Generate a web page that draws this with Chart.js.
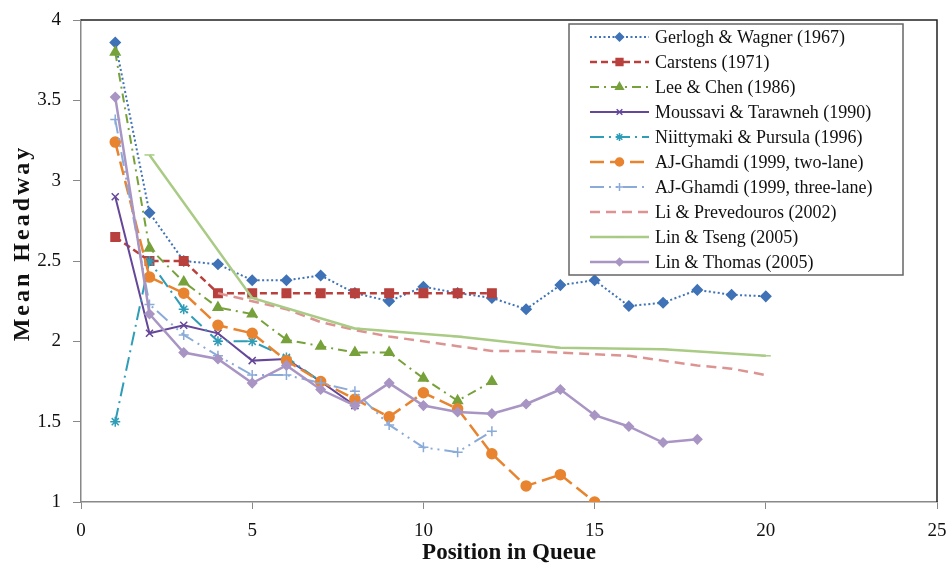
<!DOCTYPE html>
<html>
<head>
<meta charset="utf-8">
<script src="https://cdn.jsdelivr.net/npm/chart.js@4/dist/chart.umd.min.js"></script>
<style>
  html, body { margin: 0; padding: 0; background: #fff; }
  #wrap { width: 946px; height: 565px; }
</style>
</head>
<body>
<div id="wrap"><canvas id="headwayChart"></canvas></div>
<script>
// Mean headway by position in queue, several studies
var gerloghWagner = [3.86, 2.80, 2.50, 2.48, 2.38, 2.38, 2.41, 2.30, 2.25, 2.34, 2.30, 2.27, 2.20, 2.35, 2.38, 2.22, 2.24, 2.32, 2.29, 2.28];
var carstens = [2.65, 2.50, 2.50, 2.30, 2.30, 2.30, 2.30, 2.30, 2.30, 2.30, 2.30, 2.30];
var leeChen = [3.80, 2.58, 2.37, 2.21, 2.17, 2.01, 1.97, 1.93, 1.93, 1.77, 1.63, 1.75];
var moussaviTarawneh = [2.90, 2.05, 2.10, 2.05, 1.88, 1.89, 1.75, 1.60];
var niittymakiPursula = [1.50, 2.50, 2.20, 2.00, 2.00, 1.90, 1.75];
var ghamdiTwoLane = [3.24, 2.40, 2.30, 2.10, 2.05, 1.88, 1.75, 1.64, 1.53, 1.68, 1.58, 1.30, 1.10, 1.17, 1.00];
var ghamdiThreeLane = [3.38, 2.23, 2.04, 1.91, 1.79, 1.79, 1.74, 1.69, 1.48, 1.34, 1.31, 1.44];
var liPrevedourosPos = [4, 5, 6, 7, 8, 9, 10, 11, 12, 13, 14, 15, 16, 17, 18, 19, 20];
var liPrevedouros = [2.30, 2.25, 2.20, 2.12, 2.07, 2.03, 2.00, 1.97, 1.94, 1.94, 1.93, 1.92, 1.91, 1.88, 1.85, 1.83, 1.79];
var linTsengPos = [2, 5, 8, 11, 14, 17, 20];
var linTseng = [3.16, 2.27, 2.08, 2.03, 1.96, 1.95, 1.91];
var linThomas = [3.52, 2.17, 1.93, 1.89, 1.74, 1.85, 1.70, 1.60, 1.74, 1.60, 1.56, 1.55, 1.61, 1.70, 1.54, 1.47, 1.37, 1.39];

var xTicks = [0, 5, 10, 15, 20, 25];
var yTicks = [1, 1.5, 2, 2.5, 3, 3.5, 4];
var yTitle = 'Mean Headway';

// pair values with queue positions (1, 2, 3 ... unless given)
function pts(vals, pos) {
    return vals.map(function(v, i) {
        return { x: pos ? pos[i] : i + 1, y: v };
    });
}

function serie(label, data, color, dash, style, radius, width) {
    return {
        label: label,
        data: data,
        borderColor: color,
        backgroundColor: color,
        borderWidth: width || 2,
        borderDash: dash,
        pointStyle: style,
        pointRadius: style ? radius : 0,
        pointBorderColor: color,
        pointBackgroundColor: color,
        pointBorderWidth: 1.5,
        tension: 0,
        fill: false
    };
}

var datasets = [
    serie('Gerlogh & Wagner (1967)', pts(gerloghWagner), '#3F72B6', [2, 2.5], 'rectRot', 5, 2),
    serie('Carstens (1971)', pts(carstens), '#B8403D', [7, 4], 'rect', 6, 2.5),
    serie('Lee & Chen (1986)', pts(leeChen), '#77A13A', [9, 5, 2, 5], 'triangle', 5.5, 2),
    serie('Moussavi & Tarawneh (1990)', pts(moussaviTarawneh), '#65479A', [], 'crossRot', 5, 2),
    serie('Niittymaki & Pursula (1996)', pts(niittymakiPursula), '#2E9DB8', [14, 5, 2, 5], 'star', 5, 2),
    serie('AJ-Ghamdi (1999, two-lane)', pts(ghamdiTwoLane), '#E8842F', [14, 6], 'circle', 5, 2.5),
    serie('AJ-Ghamdi (1999, three-lane)', pts(ghamdiThreeLane), '#8AAAD8', [14, 5, 2, 5, 2, 5], 'cross', 5, 2),
    serie('Li & Prevedouros (2002)', pts(liPrevedouros, liPrevedourosPos), '#DC9492', [10, 6], false, 0, 2.5),
    serie('Lin & Tseng (2005)', pts(linTseng, linTsengPos), '#A9CB85', [], 'line', 5, 2.5),
    serie('Lin & Thomas (2005)', pts(linThomas), '#A895C4', [], 'rectRot', 4.5, 2.5)
];
// later series drawn on top, as in the original
datasets.forEach(function(d, i) { d.order = datasets.length - i; });

var serif = "'Liberation Serif', 'Times New Roman', serif";

// keep the plot box where the original has it
function noOverhang(scale) {
    scale.paddingTop = 0;
    scale.paddingBottom = 0;
    scale.paddingLeft = 0;
    scale.paddingRight = 0;
}

// box lines on top/right of the plot, y title and legend drawn by hand
var frameAndLegend = {
    id: 'frameAndLegend',
    afterDraw: function(chart) {
        var ctx = chart.ctx;
        var a = chart.chartArea;
        ctx.save();
        ctx.strokeStyle = '#222';
        ctx.lineWidth = 1.5;
        ctx.beginPath();
        ctx.moveTo(a.left, a.top);
        ctx.lineTo(a.right, a.top);
        ctx.lineTo(a.right, a.bottom);
        ctx.stroke();

        // y axis title
        ctx.save();
        ctx.translate(23, 243);
        ctx.rotate(-Math.PI / 2);
        ctx.font = 'bold 24px ' + serif;
        if ('letterSpacing' in ctx) ctx.letterSpacing = '3px';
        ctx.fillStyle = '#111';
        ctx.textAlign = 'center';
        ctx.textBaseline = 'middle';
        ctx.fillText(yTitle, 0, 0);
        ctx.restore();

        // legend box
        var bx = 569, by = 24, bw = 334, bh = 251;
        ctx.fillStyle = '#fff';
        ctx.fillRect(bx, by, bw, bh);
        ctx.strokeStyle = '#666';
        ctx.lineWidth = 1.5;
        ctx.strokeRect(bx, by, bw, bh);

        ctx.font = '18px ' + serif;
        ctx.textBaseline = 'middle';
        chart.data.datasets.forEach(function(d, i) {
            var y = 37 + i * 25;
            ctx.save();
            ctx.strokeStyle = d.borderColor;
            ctx.lineWidth = d.borderWidth;
            ctx.setLineDash(d.borderDash || []);
            ctx.beginPath();
            ctx.moveTo(590, y);
            ctx.lineTo(649, y);
            ctx.stroke();
            ctx.restore();
            if (d.pointStyle) {
                ctx.save();
                ctx.fillStyle = d.pointBackgroundColor;
                ctx.strokeStyle = d.pointBorderColor;
                ctx.lineWidth = d.pointBorderWidth;
                Chart.helpers.drawPoint(ctx, { pointStyle: d.pointStyle, radius: d.pointRadius * 0.8, borderWidth: d.pointBorderWidth }, 619.5, y);
                ctx.restore();
            }
            ctx.fillStyle = '#111';
            ctx.fillText(d.label, 655, y + 1);
        });
        ctx.restore();
    }
};

var ctx = document.getElementById('headwayChart').getContext('2d');
var headwayChart = new Chart(ctx, {
    type: 'line',
    data: { datasets: datasets },
    options: {
        responsive: true,
        maintainAspectRatio: false,
        animation: false,
        layout: { padding: { top: 20, right: 9, left: 0, bottom: 0 } },
        plugins: {
            legend: { display: false },
            tooltip: { enabled: false }
        },
        scales: {
            x: {
                type: 'linear',
                min: 0,
                max: 25,
                afterBuildTicks: function(scale) {
                    scale.ticks = xTicks.map(function(v) { return { value: v }; });
                },
                afterFit: function(scale) { scale.height = 63; noOverhang(scale); },
                grid: { drawOnChartArea: false, color: '#888', tickLength: 7 },
                border: { color: '#888', width: 1.5 },
                ticks: {
                    color: '#111', font: { family: serif, size: 19 }, padding: 11, maxRotation: 0,
                    callback: function(v) { return String(v); }
                },
                title: { display: true, text: 'Position in Queue', color: '#111', font: { family: serif, size: 23, weight: 'bold', lineHeight: 1 }, padding: { top: 0, bottom: 0 } }
            },
            y: {
                type: 'linear',
                min: 1,
                max: 4,
                afterBuildTicks: function(scale) {
                    scale.ticks = yTicks.map(function(v) { return { value: v }; });
                },
                afterFit: function(scale) { scale.width = 81; noOverhang(scale); },
                grid: { drawOnChartArea: false, color: '#888', tickLength: 8 },
                border: { color: '#888', width: 1.5 },
                ticks: {
                    color: '#111', font: { family: serif, size: 19 }, padding: 12,
                    callback: function(v) { return String(v); }
                }
            }
        }
    },
    plugins: [frameAndLegend]
});
</script>
</body>
</html>
